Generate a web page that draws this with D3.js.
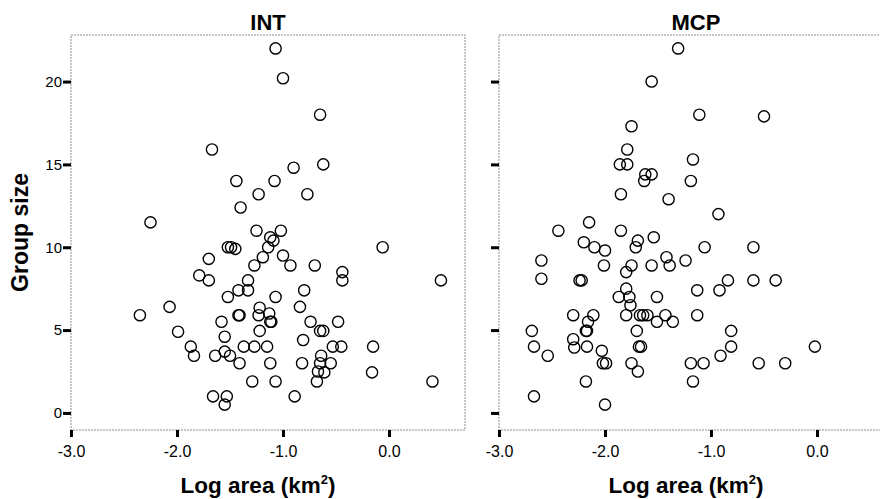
<!DOCTYPE html>
<html>
<head>
<meta charset="utf-8">
<script src="https://cdn.jsdelivr.net/npm/d3@7"></script>
<style>
  html, body { margin: 0; padding: 0; background: #fff; }
  svg { display: block; }
  text { font-family: "Liberation Sans", Arial, Helvetica, sans-serif; fill: #000; }
</style>
</head>
<body>
<svg id="chart" width="880" height="499"></svg>
<script>
// Group size against log home-range area, two estimators (INT and MCP)
const panelTitles = ["INT", "MCP"];
const xTickValues = [-3, -2, -1, 0];
const yTickValues = [0, 5, 10, 15, 20];

const intLogArea = [
  -1.07, -1.00, -0.65, -1.67, -0.62, -0.90, -1.44, -1.08, -1.23, -0.77,
  -1.40, -2.25, -1.25, -1.02, -1.12, -1.09, -1.52, -1.49, -1.45, -1.14,
  -0.06, -1.70, -1.19, -1.00, -1.27, -0.93, -0.70, -1.79, -0.44, -1.70,
  -1.33, -0.44, 0.49, -1.42, -1.33, -0.80, -1.52, -1.07, -2.07, -1.22,
  -0.84, -2.35, -1.42, -1.41, -1.23, -1.13, -1.12, -1.11, -1.58, -0.74,
  -0.48, -1.99, -1.22, -0.65, -0.62, -1.55, -0.81, -1.87, -1.37, -1.27,
  -1.15, -0.53, -0.45, -0.15, -1.55, -1.84, -1.64, -1.50, -0.64, -1.41,
  -1.12, -0.82, -0.65, -0.55, -0.67, -0.61, -0.16, -1.29, -1.07, -0.68,
  0.41, -1.66, -1.53, -0.89, -1.55
];
const intGroupSize = [
  22.0, 20.2, 18.0, 15.9, 15.0, 14.8, 14.0, 14.0, 13.2, 13.2,
  12.4, 11.5, 11.0, 11.0, 10.6, 10.4, 10.0, 10.0, 9.9, 10.0,
  10.0, 9.3, 9.4, 9.5, 8.9, 8.9, 8.9, 8.3, 8.5, 8.0,
  8.0, 8.0, 8.0, 7.4, 7.4, 7.4, 7.0, 7.0, 6.4, 6.35,
  6.4, 5.9, 5.9, 5.9, 5.9, 6.0, 5.5, 5.5, 5.5, 5.5,
  5.5, 4.9, 4.95, 4.95, 4.95, 4.6, 4.4, 4.0, 4.0, 4.0,
  4.0, 4.0, 4.0, 4.0, 3.7, 3.45, 3.45, 3.45, 3.45, 3.0,
  3.0, 3.0, 3.0, 3.0, 2.5, 2.45, 2.45, 1.9, 1.9, 1.9,
  1.9, 1.0, 1.0, 1.0, 0.5
];

const mcpLogArea = [
  -1.31, -1.56, -1.11, -0.50, -1.75, -1.79, -1.17, -1.86, -1.79, -1.62,
  -1.56, -1.63, -1.19, -1.85, -1.40, -0.93, -2.15, -2.44, -1.85, -1.54,
  -1.69, -2.20, -1.71, -2.10, -1.06, -0.60, -2.00, -1.42, -1.24, -2.60,
  -2.01, -1.75, -1.56, -1.39, -1.80, -2.60, -2.24, -2.22, -0.84, -0.60,
  -0.39, -1.80, -1.13, -0.92, -1.77, -1.87, -1.51, -1.76, -2.30, -2.11,
  -1.80, -1.67, -1.64, -1.60, -1.43, -1.13, -1.51, -2.16, -1.36, -2.18,
  -2.17, -2.69, -1.70, -0.81, -2.30, -2.67, -2.29, -2.17, -1.68, -1.66,
  -0.81, -0.02, -2.03, -2.54, -0.91, -2.02, -1.99, -1.75, -1.19, -1.07,
  -0.55, -0.30, -1.69, -2.18, -1.17, -2.67, -2.00
];
const mcpGroupSize = [
  22.0, 20.0, 18.0, 17.9, 17.3, 15.9, 15.3, 15.0, 15.0, 14.4,
  14.4, 14.0, 14.0, 13.2, 12.9, 12.0, 11.5, 11.0, 11.0, 10.6,
  10.4, 10.3, 10.0, 10.0, 10.0, 10.0, 9.8, 9.4, 9.2, 9.2,
  8.9, 8.9, 8.9, 8.9, 8.5, 8.1, 8.0, 8.0, 8.0, 8.0,
  8.0, 7.5, 7.4, 7.4, 7.0, 7.0, 7.0, 6.5, 5.9, 5.9,
  5.9, 5.9, 5.9, 5.9, 5.9, 5.9, 5.5, 5.5, 5.5, 4.95,
  4.95, 4.95, 4.95, 4.95, 4.45, 4.0, 3.95, 4.0, 4.0, 4.0,
  4.0, 4.0, 3.75, 3.45, 3.45, 3.0, 3.0, 3.0, 3.0, 3.0,
  3.0, 3.0, 2.5, 1.9, 1.9, 1.0, 0.5
];

const svg = d3.select("#chart");
const fontStack = '"Liberation Sans", Arial, Helvetica, sans-serif';

const frameTop = 35, frameBottom = 430, frameWidth = 394;
const panelLefts = [71, 499];

const y = d3.scaleLinear().domain([-1.03, 22.81]).range([frameBottom, frameTop]);

const panels = [
  { title: panelTitles[0], xs: intLogArea, ys: intGroupSize, showYLabels: true },
  { title: panelTitles[1], xs: mcpLogArea, ys: mcpGroupSize, showYLabels: false }
];

panels.forEach((p, i) => {
  const left = panelLefts[i];
  const x = d3.scaleLinear().domain([-3, 0.717]).range([left, left + frameWidth]);
  const g = svg.append("g");

  // dotted plot frame
  g.append("rect")
    .attr("x", left).attr("y", frameTop)
    .attr("width", frameWidth).attr("height", frameBottom - frameTop)
    .attr("fill", "none")
    .attr("stroke", "#8c8c8c")
    .attr("stroke-width", 1)
    .attr("stroke-dasharray", "2,1");

  // x axis: heavy short ticks below the frame
  const xAxis = g.append("g")
    .attr("transform", `translate(0,${frameBottom})`)
    .call(d3.axisBottom(x).tickValues(xTickValues)
      .tickFormat(d => d.toFixed(1))
      .tickSize(7).tickSizeOuter(0).tickPadding(8.5));
  xAxis.select(".domain").remove();
  xAxis.selectAll(".tick line").attr("stroke", "#000").attr("stroke-width", 3);
  xAxis.selectAll(".tick text")
    .attr("font-family", fontStack).attr("font-size", 16).attr("fill", "#000");

  // y axis: heavy short ticks left of the frame
  const yAxis = g.append("g")
    .attr("transform", `translate(${left},0)`)
    .call(d3.axisLeft(y).tickValues(yTickValues)
      .tickFormat(p.showYLabels ? d3.format("d") : () => "")
      .tickSize(8).tickSizeOuter(0).tickPadding(1));
  yAxis.select(".domain").remove();
  yAxis.selectAll(".tick line").attr("stroke", "#000").attr("stroke-width", 3);
  yAxis.selectAll(".tick text")
    .attr("font-family", fontStack).attr("font-size", 15).attr("fill", "#000");

  // open circle markers
  g.append("g").selectAll("circle")
    .data(d3.range(p.xs.length))
    .join("circle")
    .attr("cx", k => x(p.xs[k]))
    .attr("cy", k => y(p.ys[k]))
    .attr("r", 5.6)
    .attr("fill", "none")
    .attr("stroke", "#000")
    .attr("stroke-width", 1.4);

  // panel title
  g.append("text")
    .attr("x", left + frameWidth / 2)
    .attr("y", 29.5)
    .attr("text-anchor", "middle")
    .attr("font-size", 22)
    .attr("font-weight", "bold")
    .text(p.title);

  // x axis title with superscript
  const xt = g.append("text")
    .attr("x", left + 187)
    .attr("y", 493)
    .attr("text-anchor", "middle")
    .attr("font-size", 22.5)
    .attr("font-weight", "bold");
  xt.append("tspan").text("Log area (km");
  xt.append("tspan").attr("font-size", 13).attr("dy", -9).text("2");
  xt.append("tspan").attr("dy", 9).text(")");
});

// shared y axis title
svg.append("text")
  .attr("transform", `translate(28,${(frameTop + frameBottom) / 2}) rotate(-90)`)
  .attr("text-anchor", "middle")
  .attr("font-size", 23)
  .attr("font-weight", "bold")
  .text("Group size");
</script>
</body>
</html>
